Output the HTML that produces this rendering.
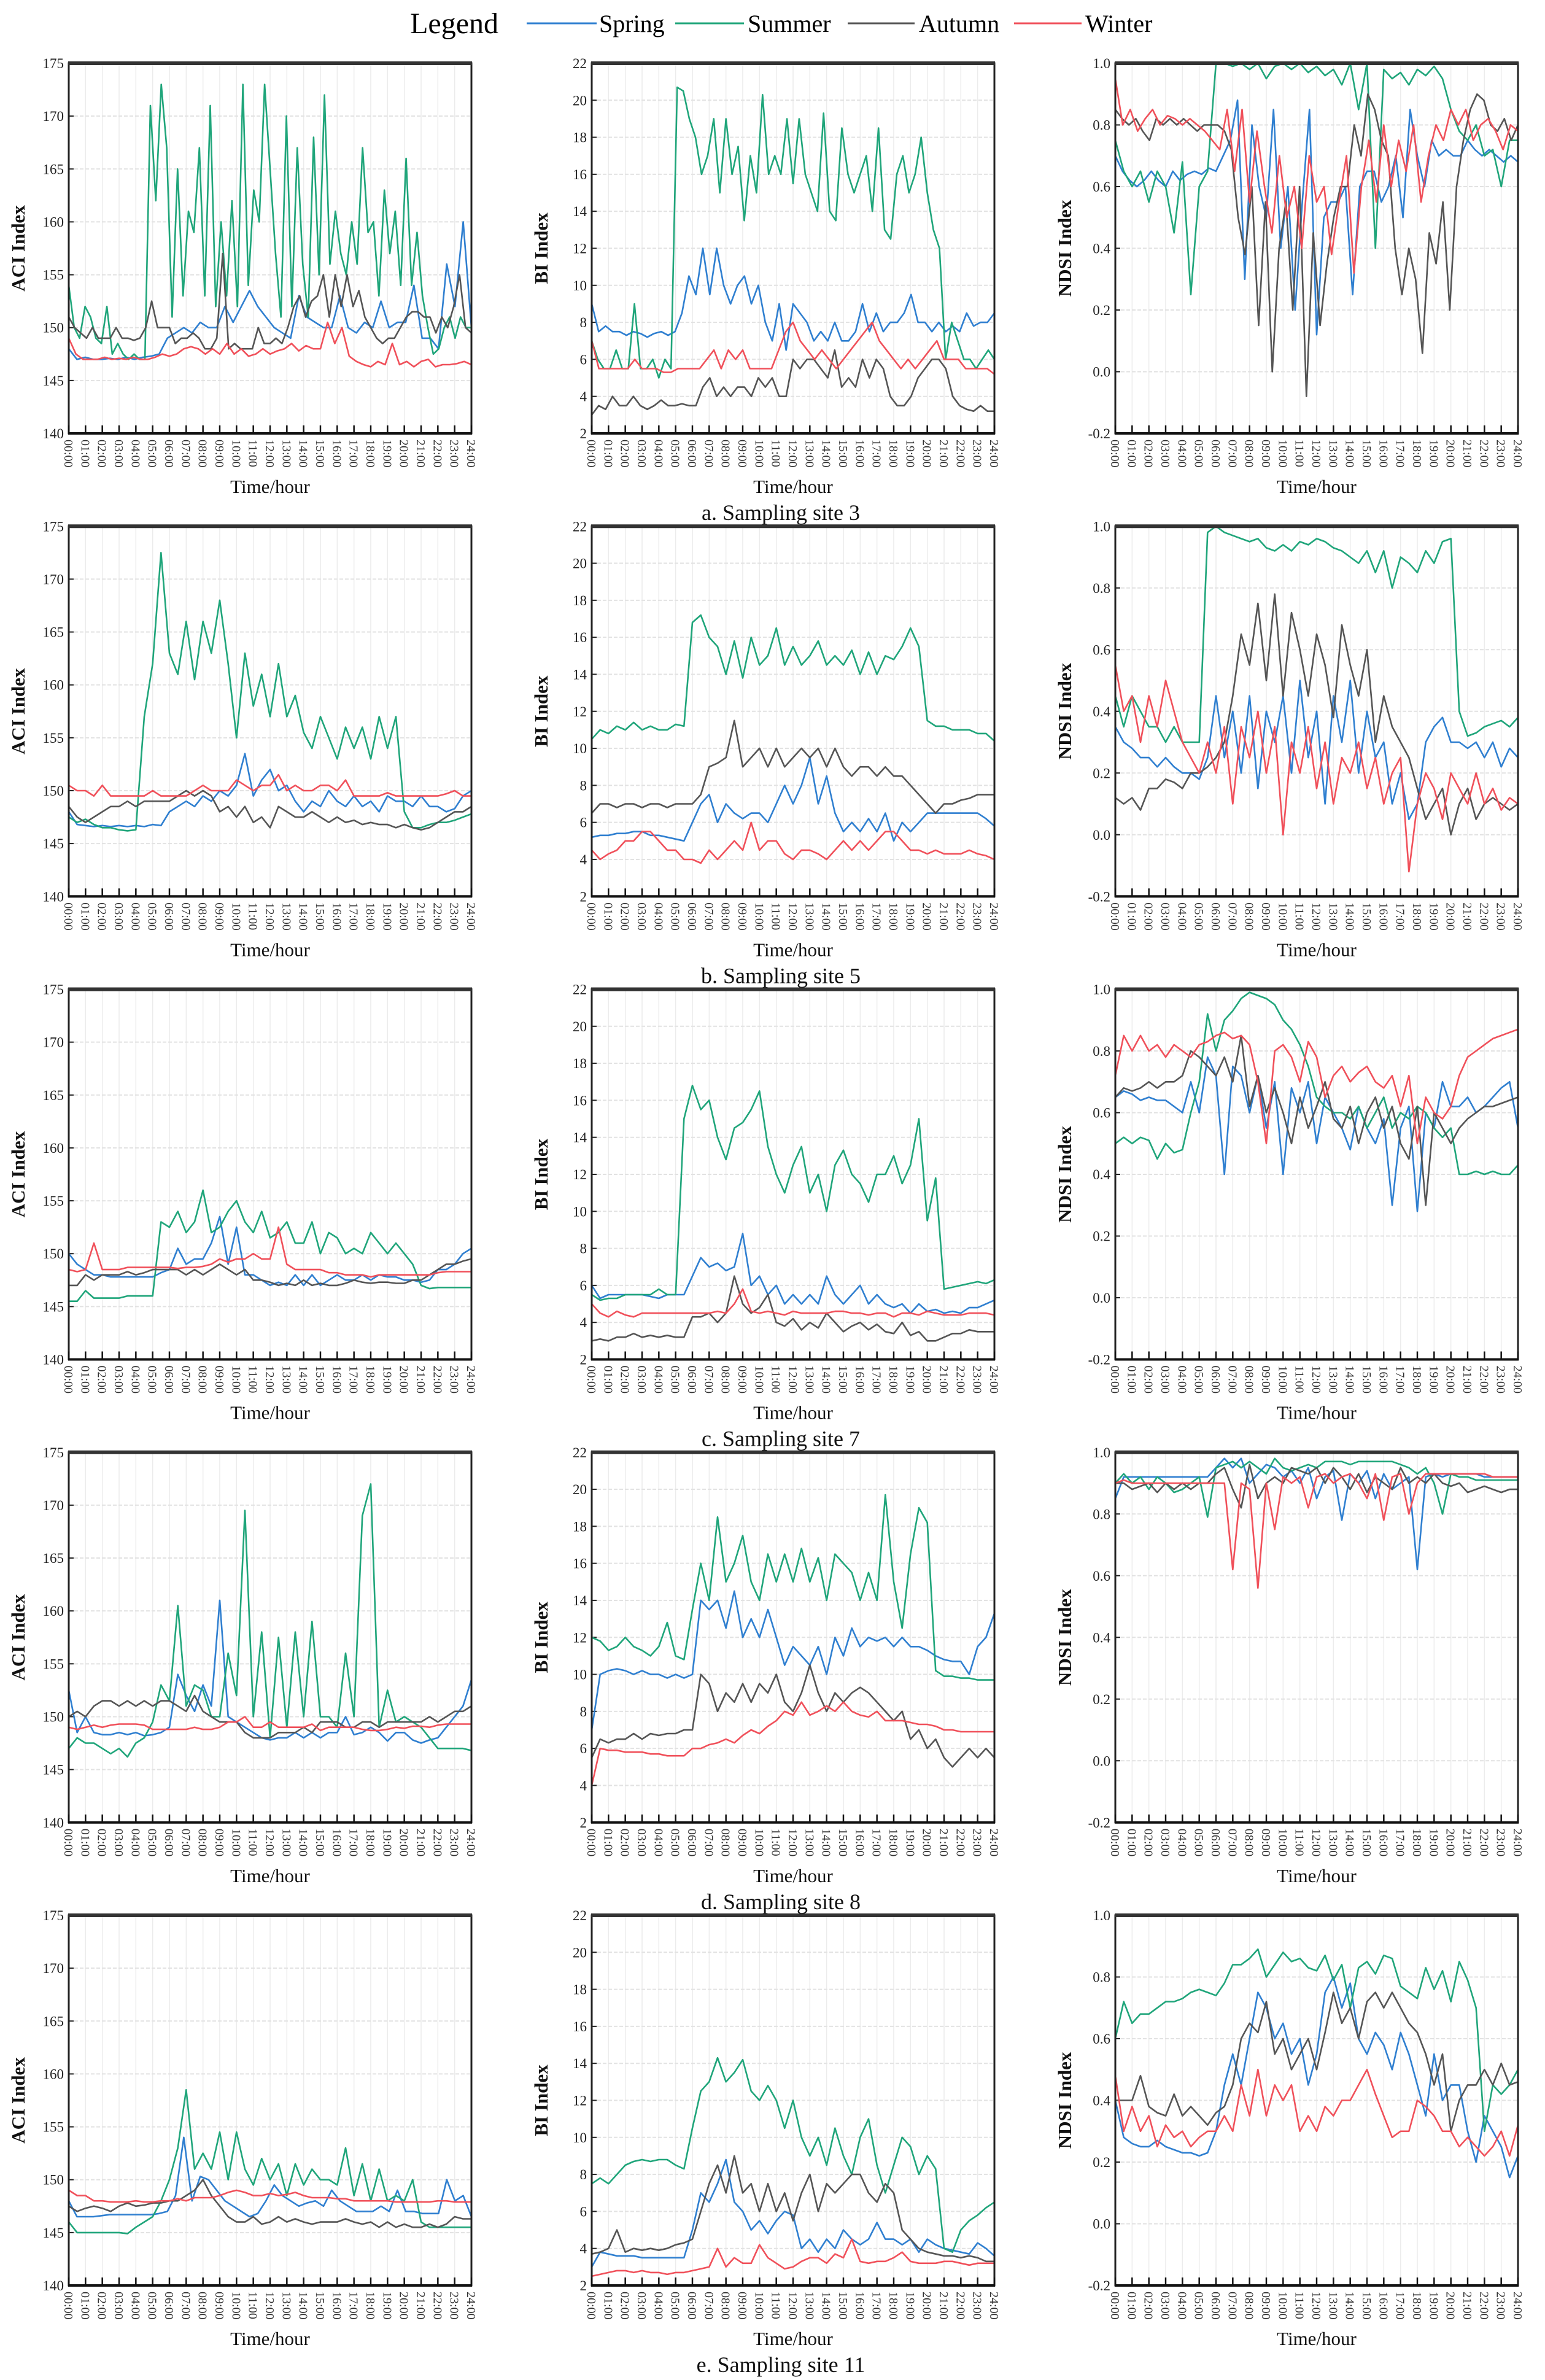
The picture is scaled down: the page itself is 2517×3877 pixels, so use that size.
<!DOCTYPE html>
<html><head><meta charset="utf-8"><style>
html,body{margin:0;padding:0;background:#fff;}
svg{display:block;font-family:"Liberation Serif",serif;}
</style></head><body>
<svg id="fig" width="2517" height="3877" viewBox="0 0 2517 3877" xmlns="http://www.w3.org/2000/svg">
<g id="legend">
<text x="812" y="54" font-size="48" text-anchor="end">Legend</text>
<line x1="858" y1="38" x2="972" y2="38" stroke="#2f7fd0" stroke-width="3"/>
<text x="976" y="52" font-size="40">Spring</text>
<line x1="1100" y1="38" x2="1212" y2="38" stroke="#1fa57a" stroke-width="3"/>
<text x="1218" y="52" font-size="40">Summer</text>
<line x1="1381" y1="38" x2="1490" y2="38" stroke="#555" stroke-width="3"/>
<text x="1497" y="52" font-size="40">Autumn</text>
<line x1="1652" y1="38" x2="1762" y2="38" stroke="#f0505a" stroke-width="3"/>
<text x="1768" y="52" font-size="40">Winter</text>
</g>
</svg>
<script>
// ---- data: each panel has four season series, values sampled across 00:00-24:00 ----
const seasons = ["spring","summer","autumn","winter"];
const siteLabels = ["a.  Sampling site 3","b.  Sampling site 5","c.  Sampling site 7","d.  Sampling site 8","e.  Sampling site 11"];
const hourTicks = ["00:00","01:00","02:00","03:00","04:00","05:00","06:00","07:00","08:00","09:00","10:00","11:00","12:00","13:00","14:00","15:00","16:00","17:00","18:00","19:00","20:00","21:00","22:00","23:00","24:00"];
const aciTicks = [140,145,150,155,160,165,170,175];
const biTicks = [2,4,6,8,10,12,14,16,18,20,22];
const ndsiTicks = [-0.2,0.0,0.2,0.4,0.6,0.8,1.0];

// Site 3
const aAciSpring = [148,147,147.2,147,147,147.1,147,147.2,147,147.2,147.3,147.5,149,149.5,150,149.5,150.5,150,150,152,150.5,152,153.5,152,151,150,149.5,149,153,151,150.5,150,150,153,150,149.5,150.5,150,152.5,150,150.5,150.5,154,149,149,148,156,152,160,150];
const aAciSummer = [154,150,149,152,151,149,148.5,152,147.5,148.5,147.5,147,147.5,147,147,171,162,173,167,151,165,153,161,159,167,153,171,152,160,153,162,152,173,154,163,160,173,165,157,151,170,152,167,156,151,168,155,172,156,161,157,155,160,156,167,159,160,153,163,157,161,154,166,154,159,153,150,147.5,148,150,151,149,151,150,150];
const aAciAutumn = [151,150,149.5,149,150,149,149,149,150,149,149,148.8,149,150,152.5,150,150,150,148.5,149,149,149.5,149,148,148,149,157,148,148.5,148,148,148,150,148.5,148.5,149,148.5,150,152,153,151,152.5,153,155,151,155,152,155,152,153.5,151,150,149,148.5,149,149,150,151,151.5,151.5,151,151,149.5,151,150,152,155,150,149.5];
const aAciWinter = [149,147.5,147,147,147,147.2,147,147.1,147,147.2,147,147,147.2,147.5,147.3,147.5,148,148.2,148,147.5,148,147.5,148.5,147.5,148,147.3,147.5,148,147.5,147.8,148,148.5,147.8,148.3,148,148,150.5,148.5,150,147.3,146.8,146.5,146.3,146.8,146.5,148.5,146.5,146.8,146.3,146.8,147,146.3,146.5,146.5,146.6,146.8,146.5];
const aBiSpring = [9,7.5,7.8,7.5,7.5,7.3,7.5,7.4,7.2,7.4,7.5,7.3,7.5,8.5,10.5,9.5,12,9.5,12,10,9,10,10.5,9,10,8,7,9,6.5,9,8.5,8,7,7.5,7,8,7,7,7.5,9,7.5,8.5,7.5,8,8,8.5,9.5,8,8,7.5,8,7.5,7.8,7.5,8.5,7.8,8,8,8.5];
const aBiSummer = [7,6,5.5,5.5,6.5,5.5,5.5,9,5.5,5.5,6,5,6,5.5,20.7,20.5,19,18,16,17,19,15,19,16,17.5,13.5,17,15,20.3,16,17,16,19,15.5,19,16,15,14,19.3,14,13.5,18.5,16,15,16,17,14,18.5,13,12.5,16,17,15,16,18,15,13,12,6,8,7,6,6,5.5,6,6.5,6];
const aBiAutumn = [3,3.5,3.3,4,3.5,3.5,4,3.5,3.3,3.5,3.8,3.5,3.5,3.6,3.5,3.5,4.5,5,4,4.5,4,4.5,4.5,4,5,4.5,5,4,4,6,5.5,6,6,5.5,5,6.5,4.5,5,4.5,6,5,6,5.5,4,3.5,3.5,4,5,5.5,6,6,5.5,4,3.5,3.3,3.2,3.5,3.2,3.2];
const aBiWinter = [7,5.5,5.5,5.5,5.5,5.5,6,5.5,5.5,5.5,5.3,5.3,5.5,5.5,5.5,5.5,6,6.5,5.5,6.5,6,6.5,5.5,5.5,5.5,5.5,6.5,7.5,8,7,6.5,6,6.5,6,5.5,6,6.5,7,7.5,8,7,6.5,6,5.5,6,5.5,6,6.5,7,6,6,6,5.5,5.5,5.5,5.5,5.2];
const aNdsiSpring = [0.7,0.65,0.62,0.6,0.62,0.65,0.62,0.6,0.65,0.62,0.64,0.65,0.64,0.66,0.65,0.7,0.75,0.88,0.3,0.8,0.6,0.5,0.85,0.4,0.6,0.2,0.55,0.85,0.12,0.5,0.55,0.55,0.6,0.25,0.6,0.65,0.65,0.55,0.6,0.7,0.5,0.85,0.7,0.6,0.75,0.7,0.72,0.7,0.7,0.75,0.72,0.7,0.72,0.7,0.68,0.7,0.68];
const aNdsiSummer = [0.75,0.65,0.6,0.65,0.55,0.65,0.6,0.45,0.68,0.25,0.6,0.65,1,1,0.99,1,0.98,1,0.95,0.99,1,0.98,1,0.97,0.99,0.96,0.98,0.93,1,0.85,1,0.4,0.98,0.95,0.97,0.93,0.98,0.96,0.99,0.95,0.85,0.78,0.75,0.8,0.7,0.72,0.6,0.75,0.75];
const aNdsiAutumn = [0.85,0.82,0.8,0.82,0.78,0.75,0.82,0.8,0.82,0.8,0.82,0.8,0.78,0.8,0.8,0.8,0.78,0.72,0.5,0.38,0.6,0.15,0.55,0.0,0.4,0.55,0.2,0.6,-0.08,0.45,0.15,0.35,0.5,0.6,0.6,0.8,0.7,0.9,0.85,0.75,0.7,0.4,0.25,0.4,0.3,0.06,0.45,0.35,0.55,0.2,0.6,0.75,0.85,0.9,0.88,0.8,0.78,0.82,0.75,0.8];
const aNdsiWinter = [0.95,0.8,0.85,0.78,0.82,0.85,0.8,0.83,0.82,0.8,0.82,0.8,0.78,0.75,0.72,0.85,0.65,0.85,0.55,0.78,0.6,0.45,0.7,0.5,0.6,0.4,0.7,0.55,0.6,0.38,0.55,0.7,0.32,0.6,0.75,0.55,0.8,0.6,0.75,0.65,0.8,0.55,0.7,0.8,0.75,0.85,0.8,0.85,0.75,0.8,0.82,0.78,0.72,0.8,0.78];

// Site 5
const bAciSpring = [148,146.8,146.7,146.6,146.7,146.6,146.7,146.6,146.7,146.6,146.8,146.7,148,148.5,149,148.5,149.5,149,150,149.5,150.5,153.5,149.5,151,152,150,150.5,149,148,149,148.5,150,149,148.5,149.5,148.5,149,148,149.5,149,149,148.5,149.5,148.5,148.5,148,148.3,149.5,150];
const bAciSummer = [147.5,147,147.3,146.8,146.5,146.5,146.3,146.2,146.3,157,162,172.5,163,161,166,160.5,166,163,168,162,155,163,158,161,157,162,157,159,155.5,154,157,155,153,156,154,156,153,157,154,157,148,146.5,146.5,146.8,147,147,147.2,147.5,147.8];
const bAciAutumn = [148.5,147.5,147,147.5,148,148.5,148.5,149,148.5,149,149,149,149,149.5,150,149.5,150,149.5,148,148.5,147.5,148.5,147,147.5,146.5,148.5,148,147.5,147.5,148,147.5,147,147.5,147,147.2,146.8,147,146.8,146.8,146.5,146.8,146.5,146.3,146.5,147,147.5,148,148,148.5];
const bAciWinter = [150.5,150,150,149.5,150.5,149.5,149.5,149.5,149.5,149.5,150,149.5,149.5,149.5,149.5,150,150.5,150,150,150,151,150.5,150,150.5,150.5,151.5,150,150.5,150,150,150.5,150.5,150,151,149.5,149.5,149.5,149.5,149.8,149.5,149.5,149.5,149.5,149.5,149.5,149.7,150,149.5,149.5];
const bBiSpring = [5.2,5.3,5.3,5.4,5.4,5.5,5.5,5.3,5.3,5.2,5.1,5,6,7,7.5,6,7,6.5,6.2,6.5,6.5,6,7,8,7,8,9.5,7,8.5,6.5,5.5,6,5.5,6.2,5.5,6.5,5,6,5.5,6,6.5,6.5,6.5,6.5,6.5,6.5,6.5,6.2,5.8];
const bBiSummer = [10.5,11,10.8,11.2,11,11.4,11,11.2,11,11,11.3,11.2,16.8,17.2,16,15.5,14,15.8,13.8,16,14.5,15,16.5,14.5,15.5,14.5,15,15.8,14.5,15,14.5,15.3,14,15.2,14,15,14.8,15.5,16.5,15.5,11.5,11.2,11.2,11,11,11,10.8,10.8,10.4];
const bBiAutumn = [6.5,7,7,6.8,7,7,6.8,7,7,6.8,7,7,7,7.5,9,9.2,9.5,11.5,9,9.5,10,9,10,9,9.5,10,9.5,10,9,10,9,8.5,9,9,8.5,9,8.5,8.5,8,7.5,7,6.5,7,7,7.2,7.3,7.5,7.5,7.5];
const bBiWinter = [4.5,4,4.3,4.5,5,5,5.5,5.5,5,4.5,4.5,4,4,3.8,4.5,4,4.5,5,4.5,6,4.5,5,5,4.3,4,4.5,4.5,4.3,4,4.5,5,4.5,5,4.5,5,5.5,5.5,5,4.5,4.5,4.3,4.5,4.3,4.3,4.3,4.5,4.3,4.2,4];
const bNdsiSpring = [0.35,0.3,0.28,0.25,0.25,0.22,0.25,0.22,0.2,0.2,0.18,0.25,0.45,0.25,0.4,0.2,0.45,0.15,0.4,0.3,0.45,0.2,0.5,0.25,0.4,0.1,0.45,0.3,0.5,0.2,0.4,0.25,0.3,0.1,0.2,0.05,0.1,0.3,0.35,0.38,0.3,0.3,0.28,0.3,0.25,0.3,0.22,0.28,0.25];
const bNdsiSummer = [0.45,0.35,0.45,0.4,0.35,0.35,0.3,0.35,0.3,0.3,0.3,0.98,1,0.98,0.97,0.96,0.95,0.96,0.93,0.92,0.94,0.92,0.95,0.94,0.96,0.95,0.93,0.92,0.9,0.88,0.92,0.85,0.92,0.8,0.9,0.88,0.85,0.92,0.88,0.95,0.96,0.4,0.32,0.33,0.35,0.36,0.37,0.35,0.38];
const bNdsiAutumn = [0.12,0.1,0.12,0.08,0.15,0.15,0.18,0.17,0.15,0.2,0.2,0.22,0.25,0.3,0.45,0.65,0.55,0.75,0.5,0.78,0.45,0.72,0.6,0.45,0.65,0.55,0.38,0.68,0.55,0.45,0.6,0.3,0.45,0.35,0.3,0.25,0.15,0.05,0.1,0.15,0.0,0.1,0.15,0.05,0.1,0.12,0.1,0.08,0.1];
const bNdsiWinter = [0.55,0.4,0.45,0.3,0.45,0.35,0.5,0.4,0.3,0.25,0.2,0.3,0.2,0.35,0.1,0.35,0.25,0.4,0.2,0.35,0.0,0.3,0.2,0.35,0.15,0.3,0.1,0.25,0.2,0.3,0.15,0.25,0.1,0.2,0.25,-0.12,0.1,0.2,0.15,0.05,0.2,0.15,0.1,0.2,0.1,0.15,0.08,0.12,0.1];

// Site 7
const cAciSpring = [150,149,148.5,148,148,147.8,147.8,147.8,147.8,147.8,147.8,148.2,148.5,150.5,149,149.5,149.5,151,153.5,149,152.5,148,148,147.5,147,147.3,147,148,147,148,147,147.5,148,147.5,147.5,148,147.5,148,147.8,147.8,147.5,147.5,147.3,147.5,148.5,148.5,149,150,150.5];
const cAciSummer = [145.5,145.5,146.5,145.8,145.8,145.8,145.8,146,146,146,146,153,152.5,154,152,153,156,152,152.5,154,155,153,152,154,151.5,152,153,151,151,153,150,152,151.5,150,150.5,150,152,151,150,151,150,149,147,146.7,146.8,146.8,146.8,146.8,146.8];
const cAciAutumn = [147,147,148,147.5,148,148,148,148.3,148,148.2,148.5,148.5,148.5,148.5,148,148.5,148,148.5,149,148.5,148,148.5,147.5,147.5,147.3,147,147.2,147,147.5,147,147.2,147,147,147.2,147.5,147.3,147.2,147.3,147.3,147.2,147.2,147.5,147.5,148,148.5,149,149,149.3,149.5];
const cAciWinter = [148.5,148.3,148.5,151,148.5,148.5,148.5,148.7,148.7,148.7,148.7,148.7,148.7,148.6,148.7,148.7,148.8,149,149.5,149.2,149.5,149.5,150,149.5,149.5,152.5,149,148.5,148.5,148.5,148.5,148.2,148.2,148,148,148,147.8,148,148,148,148,148,148,148,148.2,148.3,148.3,148.3,148.3];
const cBiSpring = [6,5.3,5.5,5.5,5.5,5.5,5.5,5.4,5.3,5.5,5.5,5.5,6.5,7.5,7,7.2,6.8,7,8.8,6,6.5,5.5,6,5,5.5,5,5.5,5,6.5,5.5,5,5.5,6,5,5.5,5,4.8,5,4.5,5,4.6,4.7,4.5,4.6,4.5,4.8,4.8,5,5.2];
const cBiSummer = [5.5,5.2,5.3,5.3,5.5,5.5,5.5,5.5,5.8,5.5,5.5,15,16.8,15.5,16,14,12.8,14.5,14.8,15.5,16.5,13.5,12,11,12.5,13.5,11,12,10,12.5,13.3,12,11.5,10.5,12,12,13,11.5,12.5,15,9.5,11.8,5.8,5.9,6,6.1,6.2,6.1,6.3];
const cBiAutumn = [3,3.1,3,3.2,3.2,3.4,3.2,3.3,3.2,3.3,3.2,3.2,4.3,4.3,4.5,4,4.5,6.5,5,4.5,4.8,5.5,4,3.8,4.2,3.6,4,3.7,4.5,4,3.5,3.8,4,3.6,3.9,3.5,3.4,4,3.3,3.5,3,3,3.2,3.4,3.4,3.6,3.5,3.5,3.5];
const cBiWinter = [5,4.5,4.3,4.6,4.4,4.3,4.5,4.5,4.5,4.5,4.5,4.5,4.5,4.5,4.5,4.6,4.5,5,5.8,4.6,4.5,4.6,4.5,4.4,4.6,4.5,4.5,4.5,4.5,4.6,4.6,4.5,4.5,4.4,4.5,4.5,4.3,4.5,4.5,4.4,4.6,4.5,4.4,4.4,4.4,4.5,4.5,4.5,4.4];
const cNdsiSpring = [0.65,0.67,0.66,0.64,0.65,0.64,0.64,0.62,0.6,0.7,0.6,0.78,0.72,0.4,0.75,0.72,0.6,0.72,0.55,0.7,0.4,0.68,0.6,0.7,0.5,0.65,0.6,0.55,0.48,0.62,0.55,0.5,0.58,0.3,0.55,0.62,0.28,0.6,0.55,0.7,0.62,0.62,0.65,0.6,0.62,0.65,0.68,0.7,0.55];
const cNdsiSummer = [0.5,0.52,0.5,0.52,0.51,0.45,0.5,0.47,0.48,0.6,0.7,0.92,0.8,0.9,0.93,0.97,0.99,0.98,0.97,0.95,0.9,0.87,0.82,0.75,0.65,0.62,0.6,0.6,0.58,0.62,0.55,0.6,0.65,0.55,0.6,0.58,0.62,0.6,0.55,0.52,0.55,0.4,0.4,0.41,0.4,0.41,0.4,0.4,0.43];
const cNdsiAutumn = [0.65,0.68,0.67,0.68,0.7,0.68,0.7,0.7,0.72,0.8,0.78,0.75,0.72,0.78,0.7,0.85,0.62,0.72,0.6,0.68,0.6,0.5,0.65,0.55,0.62,0.7,0.58,0.55,0.62,0.5,0.6,0.65,0.55,0.62,0.5,0.45,0.62,0.3,0.6,0.55,0.5,0.55,0.58,0.6,0.62,0.62,0.63,0.64,0.65];
const cNdsiWinter = [0.72,0.85,0.8,0.85,0.8,0.82,0.78,0.82,0.8,0.78,0.82,0.83,0.85,0.86,0.84,0.85,0.82,0.7,0.5,0.8,0.82,0.78,0.7,0.83,0.78,0.65,0.72,0.75,0.7,0.73,0.75,0.7,0.68,0.72,0.62,0.72,0.5,0.65,0.6,0.58,0.62,0.72,0.78,0.8,0.82,0.84,0.85,0.86,0.87];

// Site 8
const dAciSpring = [152.5,148.5,150,148.5,148.3,148.3,148.5,148.3,148.5,148.2,148.3,148.5,149,154,152,150.5,153,151,161,150,149.5,149,148.5,148,147.8,148,148,148.5,148,148.5,148,148.5,148.5,150,148.3,148.5,149,148.5,147.7,148.5,148.5,147.8,147.5,147.8,148,149,150,151,153.5];
const dAciSummer = [147,148,147.5,147.5,147,146.5,147,146.2,147.5,148,149.5,153,151.5,160.5,151,153,152.5,150,150,156,152,169.5,150,158,148,157.5,149,158,150,159,150,150,149,156,150,169,172,149,152.5,149.5,150,149.5,149,148,147,147,147,147,146.8];
const dAciAutumn = [150,150.5,150,151,151.5,151.5,151,151.5,151,151.5,151,151.5,151.5,151,150.5,152,150.5,150,149.5,149.5,149.5,148.5,148,148,148,148.5,148.5,148.5,149,148.5,149.5,149.5,149.5,149,149,149.5,149.5,149,149.5,149.5,149.5,149.5,149.5,150,149.5,150,150.5,150.5,151];
const dAciWinter = [149,148.8,149,149.2,149,149.2,149.3,149.3,149.3,149.2,148.8,148.8,148.8,148.8,148.8,149,148.8,148.8,149,149.5,149.5,150,149,149,149.5,149,149,149,149,149.3,148.7,149,149,149,149,148.8,148.7,148.7,148.8,149,148.9,149.1,149.1,149,149.2,149.3,149.3,149.3,149.3];
const dBiSpring = [7,10,10.2,10.3,10.2,10,10.2,10,10,9.8,10,9.8,10,14,13.5,14,12.5,14.5,12,13,12,13.5,12,10.5,11.5,11,10.5,11.5,10,12,11,12.5,11.5,12,11.8,12,11.5,12,11.5,11.5,11.3,11,10.8,10.7,10.7,10,11.5,12,13.3];
const dBiSummer = [12,11.8,11.3,11.5,12,11.5,11.3,11,11.5,12.8,11,10.8,13.5,16,14,18.5,15,16,17.5,15,14,16.5,15,16.5,15,16.8,15,16.3,14,16.5,16,15.5,14,15.5,14,19.7,15,12.5,16.5,19,18.2,10.2,9.9,9.9,9.8,9.8,9.7,9.7,9.7];
const dBiAutumn = [5.5,6.5,6.3,6.5,6.5,6.8,6.5,6.8,6.7,6.8,6.8,7,7,10,9.5,8,9,8.5,9.5,8.5,9.5,9,10,8.5,8,9,10.5,9,8,9,8.5,9,9.3,9,8.5,8,7.5,8,6.5,7,6,6.5,5.5,5,5.5,6,5.5,6,5.5];
const dBiWinter = [4,6,5.9,5.9,5.8,5.8,5.8,5.7,5.7,5.6,5.6,5.6,6,6,6.2,6.3,6.5,6.3,6.7,7,6.8,7.2,7.5,8,7.8,8.5,7.8,8,8.3,8,8.5,8,7.8,7.7,8,7.5,7.5,7.5,7.4,7.3,7.3,7.2,7,7,6.9,6.9,6.9,6.9,6.9];
const dNdsiSpring = [0.85,0.92,0.92,0.92,0.92,0.92,0.92,0.92,0.92,0.92,0.92,0.92,0.95,0.98,0.95,0.98,0.9,0.93,0.96,0.95,0.92,0.94,0.9,0.95,0.85,0.92,0.94,0.78,0.93,0.9,0.94,0.85,0.93,0.88,0.9,0.92,0.62,0.92,0.93,0.92,0.93,0.93,0.93,0.93,0.92,0.92,0.92,0.92,0.92];
const dNdsiSummer = [0.9,0.93,0.9,0.92,0.88,0.92,0.9,0.87,0.88,0.9,0.92,0.79,0.95,0.96,0.97,0.95,0.97,0.95,0.93,0.98,0.95,0.94,0.95,0.96,0.95,0.97,0.97,0.97,0.96,0.97,0.97,0.97,0.97,0.97,0.96,0.95,0.93,0.95,0.9,0.8,0.93,0.92,0.92,0.91,0.91,0.91,0.91,0.91,0.91];
const dNdsiAutumn = [0.9,0.9,0.88,0.89,0.9,0.87,0.9,0.88,0.9,0.88,0.9,0.9,0.93,0.95,0.88,0.82,0.96,0.85,0.9,0.92,0.9,0.95,0.94,0.93,0.95,0.9,0.95,0.92,0.88,0.93,0.87,0.92,0.9,0.88,0.95,0.9,0.92,0.9,0.93,0.9,0.89,0.9,0.87,0.88,0.89,0.88,0.87,0.88,0.88];
const dNdsiWinter = [0.9,0.91,0.9,0.9,0.9,0.9,0.9,0.9,0.9,0.9,0.9,0.9,0.9,0.9,0.62,0.9,0.88,0.56,0.9,0.75,0.92,0.9,0.92,0.82,0.92,0.93,0.9,0.92,0.93,0.9,0.85,0.93,0.78,0.92,0.93,0.8,0.9,0.93,0.93,0.93,0.93,0.93,0.93,0.93,0.93,0.92,0.92,0.92,0.92];

// Site 11
const eAciSpring = [148,146.5,146.5,146.5,146.6,146.7,146.7,146.7,146.7,146.7,146.7,146.8,147,148.5,154,148,150.3,150,149,148,147.5,147,146.5,146.8,148,149.5,148.5,148,147.5,147.8,148,147.5,149,148,147.5,147,147,147,147.5,147,149,147,147,146.8,146.8,146.8,150,148,148.5,146.5];
const eAciSummer = [146,145,145,145,145,145,145,144.9,145.5,146,146.5,148,150,153,158.5,151,152.5,151,154.5,150,154.5,151,149.5,152,150,151.5,148.5,151.5,149.5,151,150,150,149.5,153,148.5,151.5,148,151,148,148.5,148,150,146,145.5,145.5,145.5,145.5,145.5,145.5];
const eAciAutumn = [147.5,147,147.3,147.5,147.3,147,147.5,147.8,147.5,147.6,147.8,147.8,148,148,148.5,149,150,148.5,147.5,146.5,146,146,146.5,145.8,146,146.5,146,146.3,146,145.8,146,146,146,146.3,146,145.8,146,145.5,146,145.5,145.8,145.5,145.5,145.8,145.5,145.8,146.5,146.3,146.3];
const eAciWinter = [149,148.5,148.5,148,148,147.9,147.9,147.9,148,147.9,147.9,148,148,148.2,148,148.3,148.3,148.3,148.5,148.8,149,148.8,148.5,148.5,148.7,148.5,148.6,148.8,148.5,148.3,148.3,148.3,148.2,148.2,148,148,148,148,148,147.9,147.9,147.9,147.9,147.9,148,148,147.9,147.9,147.9];
const eBiSpring = [3,3.8,3.7,3.6,3.6,3.6,3.5,3.5,3.5,3.5,3.5,3.5,5,7,6.5,7.5,8.8,6.5,6,5,5.5,4.8,5.5,6,5.8,4,4.5,3.8,4.5,4,5,4.5,4.2,4.5,5.4,4.5,4.5,4.2,4.5,3.8,4.5,4.2,4,3.9,3.8,3.7,4.3,4,3.6];
const eBiSummer = [7.5,7.8,7.5,8,8.5,8.7,8.8,8.7,8.8,8.8,8.5,8.3,10.5,12.5,13,14.3,13,13.5,14.2,12.5,12,12.8,12,10.5,12,10,9,10,8.5,10.5,9,8,10,11,8.5,7,8.5,10,9.5,8,9,8.3,4,3.8,5,5.5,5.8,6.2,6.5];
const eBiAutumn = [3.7,3.8,4,5,3.8,4,3.9,4,3.9,4,4.2,4.3,4.5,6,7.5,8.5,7,9,7,7.5,6,7.5,6,7,5.5,7,8,6,7.5,7,7.5,8,8,7,6.5,7.5,7,5,4.5,4,3.8,3.7,3.6,3.6,3.5,3.6,3.5,3.3,3.3];
const eBiWinter = [2.5,2.6,2.7,2.8,2.8,2.7,2.8,2.7,2.7,2.6,2.7,2.7,2.8,2.9,3,4,3,3.5,3.2,3.2,4.2,3.5,3.2,2.9,3,3.3,3.5,3.5,3.2,3.7,3.5,4.5,3.3,3.2,3.3,3.3,3.5,3.8,3.3,3.2,3.2,3.2,3.3,3.3,3.2,3.1,3.2,3.2,3.2];
const eNdsiSpring = [0.4,0.28,0.26,0.25,0.25,0.27,0.25,0.24,0.23,0.23,0.22,0.23,0.3,0.45,0.55,0.45,0.6,0.75,0.7,0.6,0.65,0.55,0.6,0.45,0.55,0.75,0.8,0.7,0.78,0.6,0.55,0.62,0.58,0.5,0.62,0.55,0.45,0.35,0.55,0.4,0.45,0.45,0.3,0.2,0.35,0.3,0.25,0.15,0.22];
const eNdsiSummer = [0.6,0.72,0.65,0.68,0.68,0.7,0.72,0.72,0.73,0.75,0.76,0.75,0.74,0.78,0.84,0.84,0.86,0.89,0.8,0.84,0.88,0.85,0.86,0.83,0.82,0.87,0.79,0.84,0.7,0.83,0.85,0.81,0.87,0.86,0.77,0.75,0.73,0.83,0.76,0.82,0.72,0.85,0.79,0.7,0.3,0.45,0.42,0.45,0.5];
const eNdsiAutumn = [0.4,0.4,0.4,0.48,0.38,0.36,0.35,0.42,0.35,0.38,0.35,0.32,0.36,0.38,0.45,0.6,0.65,0.62,0.72,0.55,0.6,0.5,0.55,0.6,0.5,0.62,0.75,0.65,0.7,0.6,0.72,0.75,0.7,0.75,0.7,0.65,0.62,0.55,0.45,0.55,0.3,0.4,0.45,0.45,0.5,0.45,0.52,0.45,0.46];
const eNdsiWinter = [0.48,0.3,0.38,0.3,0.35,0.25,0.32,0.28,0.3,0.25,0.28,0.3,0.3,0.35,0.3,0.45,0.35,0.5,0.35,0.45,0.4,0.45,0.3,0.35,0.3,0.38,0.35,0.4,0.4,0.45,0.5,0.42,0.35,0.28,0.3,0.3,0.4,0.38,0.35,0.3,0.3,0.25,0.28,0.25,0.22,0.25,0.3,0.22,0.32];

const panelSeries = [
 [[aAciSpring,aAciSummer,aAciAutumn,aAciWinter],[aBiSpring,aBiSummer,aBiAutumn,aBiWinter],[aNdsiSpring,aNdsiSummer,aNdsiAutumn,aNdsiWinter]],
 [[bAciSpring,bAciSummer,bAciAutumn,bAciWinter],[bBiSpring,bBiSummer,bBiAutumn,bBiWinter],[bNdsiSpring,bNdsiSummer,bNdsiAutumn,bNdsiWinter]],
 [[cAciSpring,cAciSummer,cAciAutumn,cAciWinter],[cBiSpring,cBiSummer,cBiAutumn,cBiWinter],[cNdsiSpring,cNdsiSummer,cNdsiAutumn,cNdsiWinter]],
 [[dAciSpring,dAciSummer,dAciAutumn,dAciWinter],[dBiSpring,dBiSummer,dBiAutumn,dBiWinter],[dNdsiSpring,dNdsiSummer,dNdsiAutumn,dNdsiWinter]],
 [[eAciSpring,eAciSummer,eAciAutumn,eAciWinter],[eBiSpring,eBiSummer,eBiAutumn,eBiWinter],[eNdsiSpring,eNdsiSummer,eNdsiAutumn,eNdsiWinter]]
];

// ---- rendering ----
const NS = "http://www.w3.org/2000/svg";
const svg = document.getElementById("fig");
const colors = {spring:"#2f7fd0", summer:"#1fa57a", autumn:"#555555", winter:"#f0505a"};
const colLeft = [112, 964, 1817];
const PW = 656, PH = 603;
const rowTop0 = 103, rowPitch = 754.25;
const metrics = [
 {name:"aci", title:"ACI Index", ticks:aciTicks, min:140, max:175, fmt:v=>String(v)},
 {name:"bi", title:"BI Index", ticks:biTicks, min:2, max:22, fmt:v=>String(v)},
 {name:"ndsi", title:"NDSI Index", ticks:ndsiTicks, min:-0.2, max:1.0, fmt:v=>v.toFixed(1)}
];
function mk(tag, attrs, parent){
  const e = document.createElementNS(NS, tag);
  for (const k in attrs) e.setAttribute(k, attrs[k]);
  (parent||svg).appendChild(e);
  return e;
}
const siteLetters = ["a","b","c","d","e"];
for (let r=0;r<5;r++){
  const top = rowTop0 + r*rowPitch;
  for (let c=0;c<3;c++){
    const m = metrics[c];
    const L = colLeft[c];
    const g = mk("g", {});
    
    
    const xs = h => L + h/24*PW;
    const ys = v => top + PH - (v - m.min)/(m.max - m.min)*PH;
    for (let i=1;i<24;i++){
      const gl = mk("line", {x1:xs(i), x2:xs(i), y1:top, y2:top+PH, stroke:"#ececec", "stroke-width":1.5}, g);
      
      
    }
    m.ticks.forEach((t)=>{
      const y = ys(t);
      if (t !== m.min && t !== m.max){
        const hl = mk("line", {x1:L, x2:L+PW, y1:y, y2:y, stroke:"#e2e2e2", "stroke-width":2, "stroke-dasharray":"6,3"}, g);
        
        
      }
      const tk = mk("line", {x1:L, x2:L+8, y1:y, y2:y, stroke:"#222", "stroke-width":2}, g);
      
      
      const tl = mk("text", {x:L-8, y:y+8, "font-size":23, "text-anchor":"end", fill:"#222"}, g);
      tl.textContent = m.fmt(t);
      
      
    });
    panelSeries[r][c].forEach((vals, si)=>{
      const n = vals.length;
      const pts = vals.map((v,i)=> xs(i*24/(n-1)).toFixed(1) + "," + ys(v).toFixed(1)).join(" ");
      const pl = mk("polyline", {points:pts, fill:"none", stroke:colors[seasons[si]], "stroke-width":2.6, "stroke-linejoin":"round"}, g);
      
      
    });
    const fr = mk("rect", {x:L, y:top, width:PW, height:PH, fill:"none", stroke:"#222", "stroke-width":3}, g);
    
    
    const tb = mk("line", {x1:L-1, x2:L+PW+1, y1:top, y2:top, stroke:"#333", "stroke-width":6}, g);
    
    
    const bb = mk("line", {x1:L-1, x2:L+PW+1, y1:top+PH, y2:top+PH, stroke:"#111", "stroke-width":4}, g);
    
    
    hourTicks.forEach((lab,i)=>{
      const x = xs(i);
      const tk = mk("line", {x1:x, x2:x, y1:top+PH, y2:top+PH-13, stroke:"#111", "stroke-width":2.5}, g);
      
      
      const tl = mk("text", {x:0, y:0, "font-size":20, fill:"#333", transform:"translate("+(x-7)+","+(top+PH+10)+") rotate(90)"}, g);
      tl.textContent = lab;
      
      
    });
    const yt = mk("text", {x:0, y:0, "font-size":31, "font-weight":"bold", "text-anchor":"middle", fill:"#111", transform:"translate("+(L-72)+","+(top+PH/2)+") rotate(-90)"}, g);
    yt.textContent = m.title;
    
    
    const xt = mk("text", {x:L+PW/2, y:top+700, "font-size":31, "text-anchor":"middle", fill:"#111"}, g);
    xt.textContent = "Time/hour";
    
    
  }
  const cap = mk("text", {x:1272, y:top+744, "font-size":36, "text-anchor":"middle", fill:"#111"});
  cap.setAttribute("xml:space","preserve");
  cap.textContent = siteLabels[r];
  
  
}
</script>
</body></html>
